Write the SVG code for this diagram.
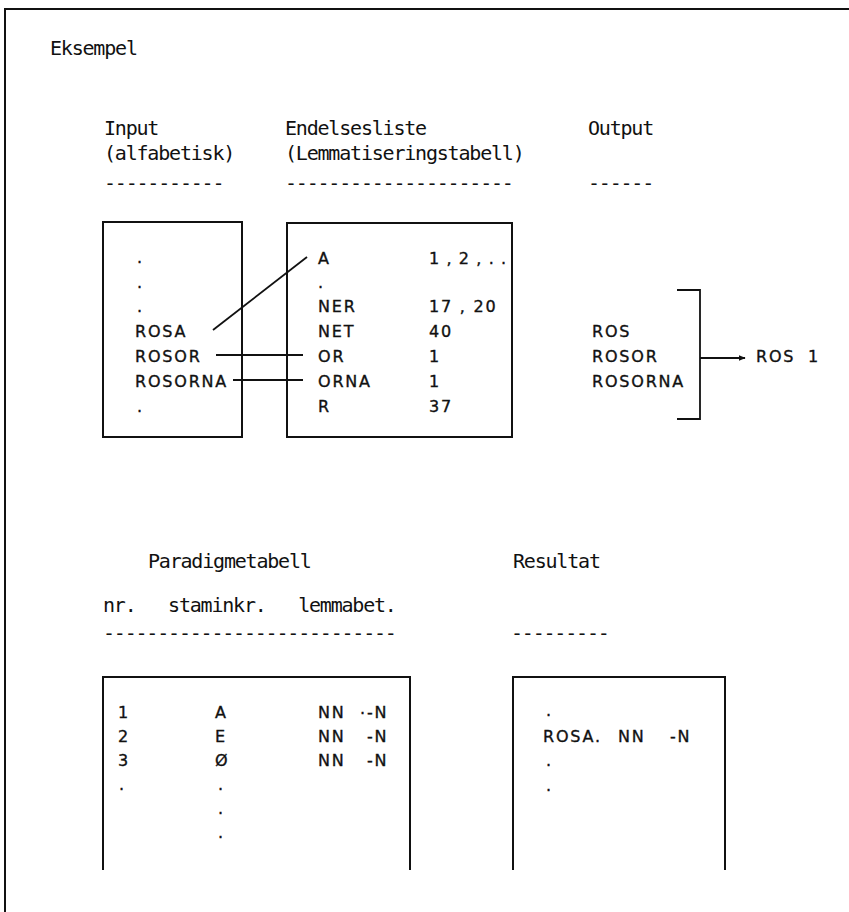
<svg xmlns="http://www.w3.org/2000/svg" width="849" height="912" viewBox="0 0 849 912">
<defs>
<style>
.h{font-family:"DejaVu Sans Mono","Liberation Mono",monospace;font-size:20px;letter-spacing:-1.2px;fill:#111;white-space:pre}
.b{font-family:"DejaVu Sans","Liberation Sans",sans-serif;font-size:16px;letter-spacing:1.8px;fill:#111;stroke:#111;stroke-width:0.35}
.box{fill:none;stroke:#111;stroke-width:2}
.ln{fill:none;stroke:#111;stroke-width:1.8}
</style>
<marker id="ah" viewBox="0 0 10 10" refX="9" refY="5" markerWidth="7" markerHeight="7" orient="auto" markerUnits="userSpaceOnUse">
<path d="M0,1 L10,5 L0,9 Z" fill="#111"/>
</marker>
</defs>
<rect width="849" height="912" fill="#fff"/>
<path class="box" d="M5,912 V9 H849"/>
<text class="h" x="50" y="55">Eksempel</text>

<g id="headers">
<text class="h" x="104" y="135">Input</text>
<text class="h" x="104" y="160">(alfabetisk)</text>
<text class="h" x="104" y="190">-----------</text>
<text class="h" x="285" y="135">Endelsesliste</text>
<text class="h" x="285" y="160">(Lemmatiseringstabell)</text>
<text class="h" x="285" y="190">---------------------</text>
<text class="h" x="588" y="135">Output</text>
<text class="h" x="588" y="190">------</text>
</g>

<g id="input">
<rect class="box" x="103" y="222" width="139" height="215"/>
<text class="b" x="137" y="263">.</text>
<text class="b" x="137" y="288">.</text>
<text class="b" x="137" y="312">.</text>
<text class="b" x="135" y="337">ROSA</text>
<text class="b" x="135" y="362">ROSOR</text>
<text class="b" x="135" y="387">ROSORNA</text>
<text class="b" x="137" y="412">.</text>
</g>

<g id="endelsesliste">
<rect class="box" x="287" y="223" width="225" height="214"/>
<text class="b" x="318" y="264">A</text>
<text class="b" x="318" y="288">.</text>
<text class="b" x="318" y="312">NER</text>
<text class="b" x="318" y="337">NET</text>
<text class="b" x="318" y="362">OR</text>
<text class="b" x="318" y="387">ORNA</text>
<text class="b" x="318" y="412">R</text>
<text class="b" x="429" y="264" style="letter-spacing:1.1px">1 , 2 , . .</text>
<text class="b" x="429" y="312">17 , 20</text>
<text class="b" x="429" y="337">40</text>
<text class="b" x="429" y="362">1</text>
<text class="b" x="429" y="387">1</text>
<text class="b" x="429" y="412">37</text>
</g>

<g id="output">
<text class="b" x="592" y="337">ROS</text>
<text class="b" x="592" y="362">ROSOR</text>
<text class="b" x="592" y="387">ROSORNA</text>
<path class="ln" d="M677,290 H700 V419 H677"/>
<text class="b" x="756" y="362">ROS</text>
<text class="b" x="808" y="362">1</text>
</g>

<g id="connectors">
<path class="ln" d="M213,330 L307,257"/>
<path class="ln" d="M216,355 H303"/>
<path class="ln" d="M233,380 H303"/>
<path class="ln" d="M700,358 H745" marker-end="url(#ah)"/>
</g>

<g id="paradigmetabell">
<text class="h" x="148" y="568">Paradigmetabell</text>
<text class="h" x="103" y="612" xml:space="preserve">nr.   staminkr.   lemmabet.</text>
<text class="h" x="103" y="640">---------------------------</text>
<path class="box" d="M103,870 V677 H410 V870"/>
<text class="b" x="118" y="718">1</text>
<text class="b" x="118" y="742">2</text>
<text class="b" x="118" y="766">3</text>
<text class="b" x="119" y="790">.</text>
<text class="b" x="215" y="718">A</text>
<text class="b" x="215" y="742">E</text>
<text class="b" x="215" y="766">Ø</text>
<text class="b" x="218" y="790">.</text>
<text class="b" x="218" y="814">.</text>
<text class="b" x="218" y="838">.</text>
<text class="b" x="318" y="718">NN</text>
<text class="b" x="318" y="742">NN</text>
<text class="b" x="318" y="766">NN</text>
<text class="b" x="360" y="714">.</text>
<text class="b" x="367" y="718">-N</text>
<text class="b" x="367" y="742">-N</text>
<text class="b" x="367" y="766">-N</text>
</g>

<g id="resultat">
<text class="h" x="513" y="568">Resultat</text>
<text class="h" x="511" y="640">---------</text>
<path class="box" d="M513,870 V677 H725 V870"/>
<text class="b" x="546" y="716">.</text>
<text class="b" x="543" y="742">ROSA.</text>
<text class="b" x="618" y="742">NN</text>
<text class="b" x="670" y="742">-N</text>
<text class="b" x="546" y="766">.</text>
<text class="b" x="546" y="791">.</text>
</g>
</svg>
